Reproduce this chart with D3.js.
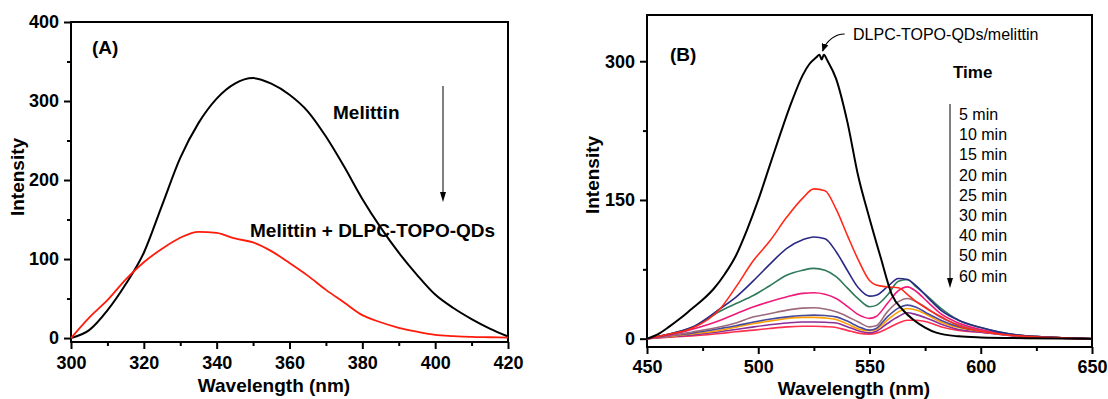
<!DOCTYPE html>
<html>
<head>
<meta charset="utf-8">
<script src="https://cdn.jsdelivr.net/npm/d3@7"></script>
<style>
  html, body { margin: 0; padding: 0; background: #fff; }
  svg { display: block; font-family: "Liberation Sans", Arial, sans-serif; }
</style>
</head>
<body>
<svg id="chart" width="1108" height="399"></svg>
<script>
// ---------- Panel A data ----------
const wavelengthA = [300,305,310,315,320,325,330,335,340,345,350,355,360,365,370,375,380,385,390,395,400,405,410,415,420];
const melittin    = [0,10,35,68,108,168,228,272,303,322,329,322,308,287,255,217,176,140,108,80,55,38,24,12,2];
const melittinQD  = [0,26,48,74,96,113,127,134.5,133,126,121,110,95,79,61,45,29,20,13,8,4,2.5,1.5,1,0.5];
const xTicksA = [300,320,340,360,380,400,420];
const yTicksA = [0,100,200,300,400];

// ---------- Panel B data ----------
const wavelengthComplex = [450,455,460,465,470,475,480,485,490,495,500,505,510,515,520,523,526,527.5,528.5,529.5,531,535,540,545,550,555,560,565,570,575,580,590,600,620,650];
const complexB          = [0,5,13,22,32,42,54,70,90,118,150,186,222,256,285,297,304,307,302,307,301,281,235,175,130,88,48,31,20,12,6.5,2.5,1.3,0.5,0];
const wavelengthB = [450,460,470,483,490,498,505,513,520,525,530,535,540,545,550,553,558,563,567,571,576,582,590,600,620,650];
const min5  = [0,5,11,32.7,56,85,105,132,152,162,160,140,112,85,63,58,56,55,48,40,32,24,14,8,2.5,0];
const min10 = [0,5,12,32.7,45,63,80,98,107,110,108,94,74,55,46,47,56,65,64,57,45,31,20,12,3,0];
const min15 = [0,5,12,30,38,47,57,68.8,74,76,74,67,55,43,34.5,36,47,62,64,56,46,33,20,12,3,0];
const min20 = [0,4,10,20,27,34.5,40,45.3,49,49.6,48,43.5,35,26,22,24,38,52,56,51,40,27,17,10,3,0];
const min25 = [0,3,7,12.8,17,23.6,27,30.9,33,33.4,32,29,24,18,12.8,14,29,40,43.5,40,32.7,23,15,9,3,0];
const min30 = [0,3,6,11,14,18,21,23.6,25,25.5,25,23.6,19,13,9.2,11,23.6,33,36.3,34,27.3,20,13,8.5,2.5,0];
const min40 = [0,2.5,5,9.2,12.5,16.4,19,21.9,23,23,22.5,20.8,16,10.5,8.5,10,20,29,32.7,31,25.5,18,12,8,2.5,0];
const min50 = [0,2,4,7.5,10,12.8,15,17,18,18,17.8,17,13,8.5,6.3,8,16.4,24,28,26,21.9,16,10,7,2,0];
const min60 = [0,1.5,3,5.6,7.5,9.2,11,12.8,13.5,13.5,13,12,9,6,4.9,6,11,17,20,20,18,13,9,7,2,0];
const timeLabels = ["5 min","10 min","15 min","20 min","25 min","30 min","40 min","50 min","60 min"];
const timeSeries = [min5,min10,min15,min20,min25,min30,min40,min50,min60];
const timeColors = ["#ff2a1a","#2a2a86","#2f7a5a","#f01878","#9c6a7c","#4a4a9c","#ffa000","#8a2e98","#ff3050"];
const xTicksB = [450,500,550,600,650];
const yTicksB = [0,150,300];

const svg = d3.select("#chart");

function drawPanel(opt) {
  const g = svg.append("g");
  const [x0, x1] = opt.x.range();
  const [y0, y1] = opt.y.range();
  g.append("g").attr("transform", `translate(0,${y0})`)
    .call(d3.axisBottom(opt.x).tickValues(opt.xMinor).tickSize(4).tickFormat(""))
    .call(a => a.select(".domain").remove())
    .call(a => a.selectAll("line").attr("stroke-width", 2));
  g.append("g").attr("transform", `translate(${x0},0)`)
    .call(d3.axisLeft(opt.y).tickValues(opt.yMinor).tickSize(4).tickFormat(""))
    .call(a => a.select(".domain").remove())
    .call(a => a.selectAll("line").attr("stroke-width", 2));
  const ax = g.append("g").attr("transform", `translate(0,${y0})`)
    .call(d3.axisBottom(opt.x).tickValues(opt.xTicks).tickSize(7).tickPadding(opt.xPad).tickFormat(d3.format("d")));
  ax.select(".domain").remove();
  ax.selectAll("line").attr("stroke-width", 2);
  ax.selectAll("text").attr("font-size", 18).attr("font-weight", "bold").attr("fill", "#000")
    .attr("font-family", "Liberation Sans, Arial, sans-serif");
  const ay = g.append("g").attr("transform", `translate(${x0},0)`)
    .call(d3.axisLeft(opt.y).tickValues(opt.yTicks).tickSize(7).tickPadding(5).tickFormat(d3.format("d")));
  ay.select(".domain").remove();
  ay.selectAll("line").attr("stroke-width", 2);
  ay.selectAll("text").attr("font-size", 18).attr("font-weight", "bold").attr("fill", "#000")
    .attr("font-family", "Liberation Sans, Arial, sans-serif");
  g.append("rect").attr("x", x0).attr("y", y1).attr("width", x1 - x0).attr("height", y0 - y1)
    .attr("fill", "none").attr("stroke", "#000").attr("stroke-width", 2);
  g.append("text").attr("x", opt.xTitleX).attr("y", opt.xTitleY).attr("text-anchor", "middle")
    .attr("font-size", 19).attr("font-weight", "bold").text("Wavelength (nm)");
  g.append("text").attr("transform", `translate(${opt.yTitleX},${opt.yTitleY}) rotate(-90)`)
    .attr("text-anchor", "middle").attr("font-size", 19).attr("font-weight", "bold").text("Intensity");
  return g;
}

function downArrow(g, x, yStart, yTip) {
  g.append("line").attr("x1", x).attr("x2", x).attr("y1", yStart).attr("y2", yTip - 8)
    .attr("stroke", "#000").attr("stroke-width", 1);
  g.append("path").attr("d", `M${x - 3},${yTip - 10} L${x + 3},${yTip - 10} L${x},${yTip} Z`).attr("fill", "#000");
}

const defs = svg.append("defs");
defs.append("marker").attr("id", "arrowTip").attr("viewBox", "0 0 10 10")
  .attr("refX", 9).attr("refY", 5).attr("markerWidth", 8).attr("markerHeight", 7)
  .attr("preserveAspectRatio", "none")
  .attr("orient", "auto").attr("markerUnits", "userSpaceOnUse")
  .append("path").attr("d", "M0,0 L10,5 L0,10 Z").attr("fill", "#000");

// ---------- Panel A ----------
const xA = d3.scaleLinear([300, 420], [71, 508]);
const yA = d3.scaleLinear([-5, 400], [342, 22]);
const gA = drawPanel({
  x: xA, y: yA, xTicks: xTicksA, yTicks: yTicksA,
  xMinor: d3.range(310, 420, 20), yMinor: d3.range(50, 400, 100),
  xPad: 7, xTitleX: 274, xTitleY: 392, yTitleX: 24, yTitleY: 177
});
const lineA = d3.line().x((d, i) => xA(wavelengthA[i])).y(d => yA(d)).curve(d3.curveMonotoneX);
gA.append("path").datum(melittin).attr("d", lineA).attr("fill", "none").attr("stroke", "#000").attr("stroke-width", 2);
gA.append("path").datum(melittinQD).attr("d", lineA).attr("fill", "none").attr("stroke", "#ff1a0a").attr("stroke-width", 1.8);
gA.append("text").attr("x", 92).attr("y", 54).attr("font-size", 19).attr("font-weight", "bold").text("(A)");
gA.append("text").attr("x", 333).attr("y", 119).attr("font-size", 19).attr("font-weight", "bold").text("Melittin");
gA.append("text").attr("x", 250).attr("y", 237).attr("font-size", 19).attr("font-weight", "bold").text("Melittin + DLPC-TOPO-QDs");
downArrow(gA, 443, 86, 202);

// ---------- Panel B ----------
const xB = d3.scaleLinear([450, 650], [647, 1092]);
const yB = d3.scaleLinear([-9, 350], [347, 15]);
const gB = drawPanel({
  x: xB, y: yB, xTicks: xTicksB, yTicks: yTicksB,
  xMinor: d3.range(475, 650, 50), yMinor: [75, 225],
  xPad: 6, xTitleX: 854, xTitleY: 395, yTitleX: 599, yTitleY: 175
});
const lineB = d3.line().x((d, i) => xB(wavelengthB[i])).y(d => yB(d)).curve(d3.curveMonotoneX);
timeSeries.slice().reverse().forEach((s, k) => {
  const i = timeSeries.length - 1 - k;
  gB.append("path").datum(s).attr("d", lineB).attr("fill", "none")
    .attr("stroke", timeColors[i]).attr("stroke-width", 1.6);
});
const lineComplex = d3.line().x((d, i) => xB(wavelengthComplex[i])).y(d => yB(d)).curve(d3.curveMonotoneX);
gB.append("path").datum(complexB).attr("d", lineComplex).attr("fill", "none").attr("stroke", "#000").attr("stroke-width", 2);

gB.append("text").attr("x", 670).attr("y", 61).attr("font-size", 19).attr("font-weight", "bold").text("(B)");
gB.append("text").attr("x", 853).attr("y", 40).attr("font-size", 16).text("DLPC-TOPO-QDs/melittin");
const pk = [xB(528.5), yB(310)];
gB.append("path")
  .attr("d", `M${pk[0] + 23},${pk[1] - 18} C${pk[0] + 14},${pk[1] - 18} ${pk[0] + 5},${pk[1] - 12} ${pk[0] + 1},${pk[1] - 1}`)
  .attr("fill", "none").attr("stroke", "#000").attr("stroke-width", 1.2).attr("marker-end", "url(#arrowTip)");
gB.append("text").attr("x", 953).attr("y", 78).attr("font-size", 17).attr("font-weight", "bold").text("Time");
downArrow(gB, 950, 104, 288);
gB.selectAll("text.leg").data(timeLabels).join("text").attr("class", "leg")
  .attr("x", 959).attr("y", (d, i) => 120 + i * 20.2).attr("font-size", 16).text(d => d);
</script>
</body>
</html>
